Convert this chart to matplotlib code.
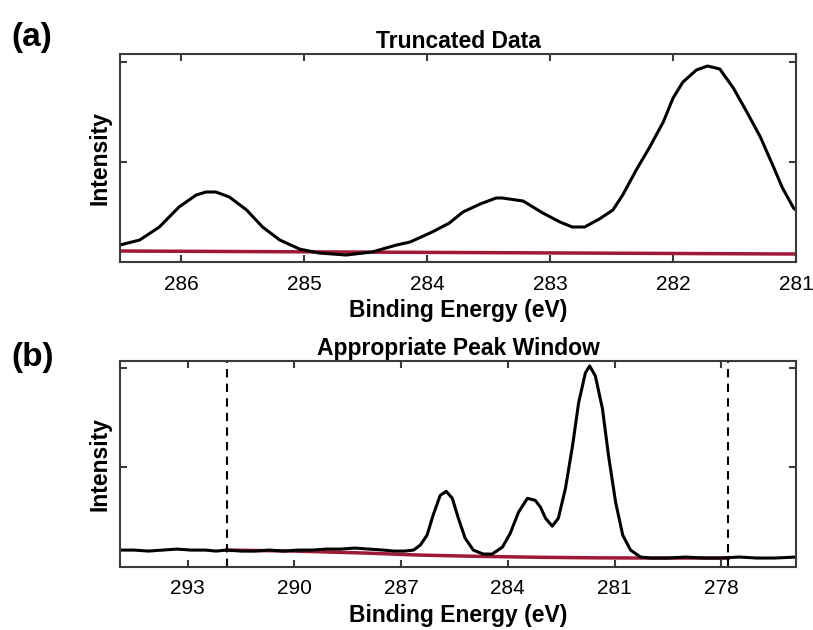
import numpy as np
import matplotlib.pyplot as plt

plt.rcParams['font.family'] = ['Liberation Sans', 'DejaVu Sans']

# (a) truncated data
energy_a = [286.50, 286.34, 286.18, 286.02, 285.88, 285.80, 285.72, 285.61,
            285.47, 285.34, 285.20, 285.04, 284.88, 284.66, 284.45, 284.25,
            284.14, 283.96, 283.82, 283.71, 283.57, 283.44, 283.39, 283.22,
            283.06, 282.92, 282.82, 282.72, 282.60, 282.49, 282.41, 282.30,
            282.19, 282.08, 282.00, 281.92, 281.81, 281.72, 281.62, 281.51,
            281.40, 281.29, 281.19, 281.11, 281.02, 281.00]
intensity_a = [0.17, 0.22, 0.35, 0.55, 0.67, 0.70, 0.70, 0.65,
               0.52, 0.35, 0.22, 0.13, 0.09, 0.07, 0.10, 0.17,
               0.20, 0.30, 0.39, 0.50, 0.58, 0.64, 0.64, 0.61,
               0.49, 0.40, 0.35, 0.35, 0.43, 0.52, 0.67, 0.92,
               1.15, 1.40, 1.64, 1.80, 1.92, 1.96, 1.93, 1.74,
               1.50, 1.25, 0.97, 0.74, 0.54, 0.52]
bg_energy_a = [286.5, 281.0]
bg_a = [0.11, 0.08]

# (b) full window
energy_b = [294.9, 294.5, 294.1, 293.7, 293.3, 292.9, 292.5, 292.2, 291.9,
            291.5, 291.1, 290.7, 290.3, 289.9, 289.5, 289.1, 288.7, 288.3,
            287.9, 287.5, 287.2, 286.9, 286.65, 286.46, 286.27, 286.10,
            285.90, 285.73, 285.56, 285.39, 285.20, 284.97, 284.69, 284.44,
            284.15, 283.93, 283.70, 283.45, 283.23, 283.08, 282.94, 282.75,
            282.58, 282.38, 282.18, 282.01, 281.82, 281.70, 281.54, 281.34,
            281.17, 280.97, 280.77, 280.55, 280.27, 279.99, 279.5, 279.0,
            278.5, 278.0, 277.5, 277.0, 276.5, 275.9]
intensity_b = [0.17, 0.17, 0.16, 0.17, 0.18, 0.17, 0.17, 0.16, 0.17,
               0.16, 0.16, 0.17, 0.16, 0.17, 0.17, 0.18, 0.18, 0.19,
               0.18, 0.17, 0.16, 0.16, 0.17, 0.22, 0.32, 0.52,
               0.72, 0.76, 0.69, 0.49, 0.29, 0.17, 0.13, 0.13,
               0.20, 0.34, 0.55, 0.69, 0.67, 0.60, 0.49, 0.41,
               0.49, 0.79, 1.22, 1.65, 1.95, 2.02, 1.92, 1.59,
               1.12, 0.65, 0.32, 0.17, 0.10, 0.09, 0.09, 0.10,
               0.09, 0.09, 0.10, 0.09, 0.09, 0.10]
bg_energy_b = [291.9, 290.0, 288.0, 286.5, 285.0, 283.0, 281.5, 280.0, 277.8]
bg_b = [0.17, 0.16, 0.14, 0.12, 0.108, 0.097, 0.092, 0.09, 0.09]
window = [291.9, 277.8]

red = '#9e1a35'
spine = '#3a3a3a'

fig = plt.figure(figsize=(8.13, 6.3), dpi=100)
ax1 = fig.add_axes([0.1476, 0.5841, 0.8315, 0.3302])
ax2 = fig.add_axes([0.1476, 0.1000, 0.8315, 0.3270])


def style(ax):
    for s in ax.spines.values():
        s.set_linewidth(1.5)
        s.set_color(spine)
    ax.tick_params(direction='in', length=5, width=1.5, color=spine,
                   top=True, right=True, labelleft=False, labelsize=15,
                   pad=9)
    ax.set_yticks([1, 2])
    ax.set_ylabel('Intensity', fontsize=16.5, fontweight='bold', labelpad=6)
    ax.set_xlabel('Binding Energy (eV)', fontsize=16.5, fontweight='bold',
                  labelpad=4)


ax1.plot(bg_energy_a, bg_a, color=red, lw=2.5)
ax1.plot(energy_a, intensity_a, color='black', lw=2.2)
ax1.set_xlim(286.5, 281.0)
ax1.set_ylim(0, 2.08)
ax1.set_xticks([286, 285, 284, 283, 282, 281])
ax1.set_title('Truncated Data', fontsize=16.5, fontweight='bold', pad=4)
style(ax1)

ax2.plot(bg_energy_b, bg_b, color=red, lw=2.5)
ax2.plot(energy_b, intensity_b, color='black', lw=2.2)
for w in window:
    ax2.axvline(w, color='black', lw=1.5, ls=(0, (4, 3)))
ax2.set_xlim(294.9, 275.9)
ax2.set_ylim(0, 2.07)
ax2.set_xticks([293, 290, 287, 284, 281, 278])
ax2.set_title('Appropriate Peak Window', fontsize=16.5, fontweight='bold', pad=4)
style(ax2)

fig.text(0.014, 0.965, '(a)', fontsize=24, fontweight='bold', va='top')
fig.text(0.014, 0.457, '(b)', fontsize=24, fontweight='bold', va='top')

fig.savefig('out.png', dpi=100)
